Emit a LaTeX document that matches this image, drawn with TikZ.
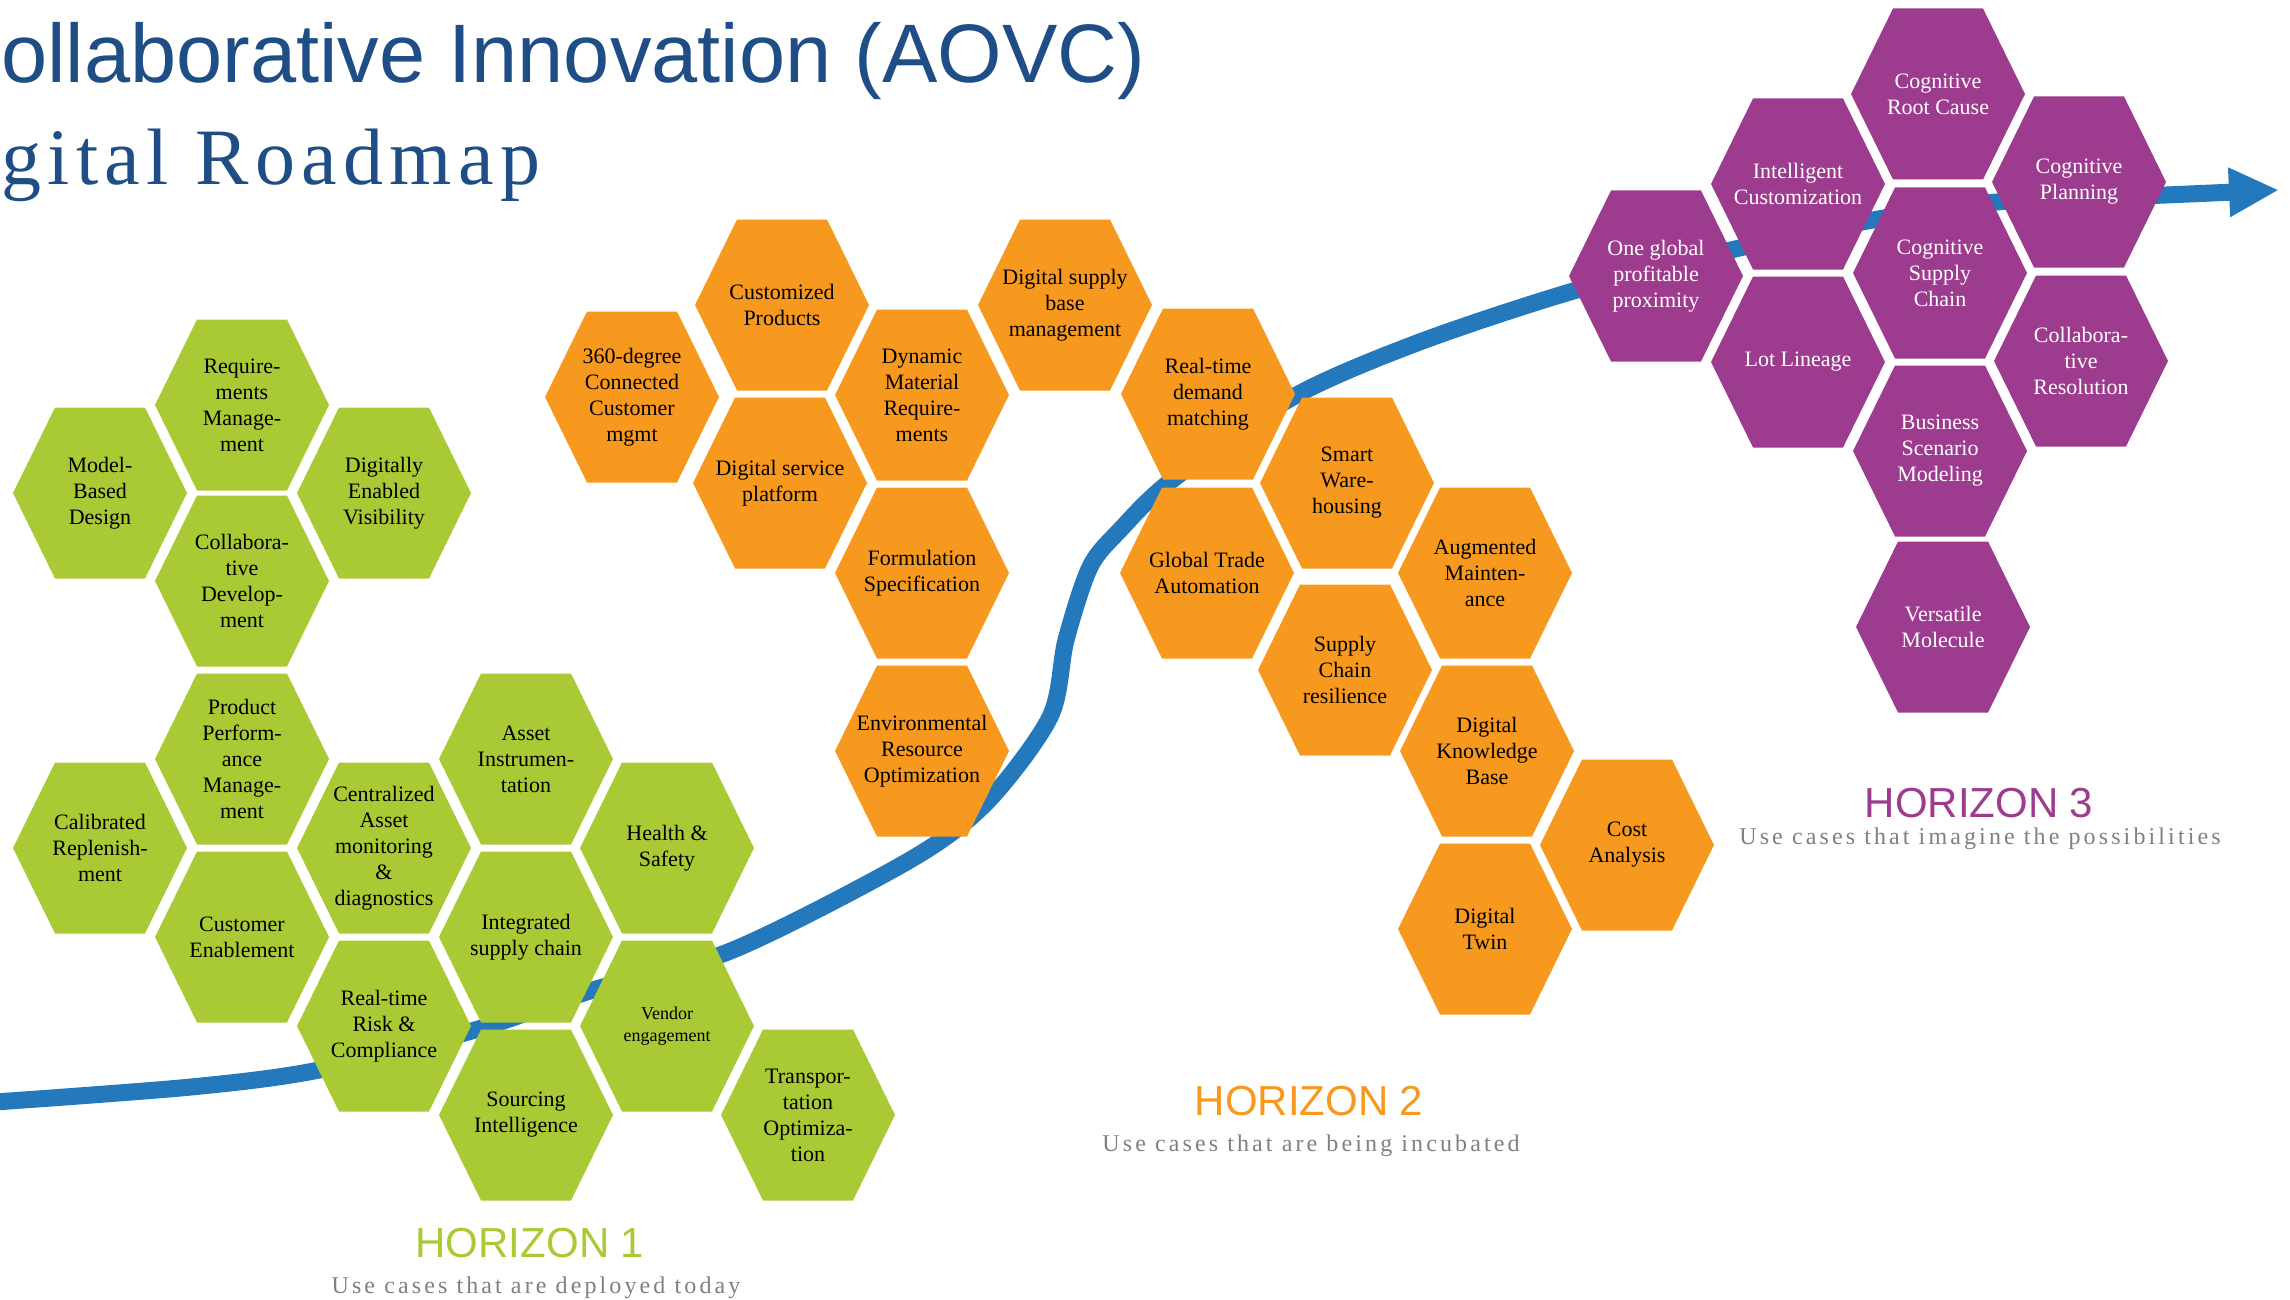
\documentclass[tikz,border=0pt]{standalone}
\usepackage{fontspec}
\setmainfont{Liberation Serif}
\newfontfamily\headfont{Liberation Sans}
\usepackage{xcolor}
\usetikzlibrary{arrows.meta}

\definecolor{hgreen}{RGB}{169,202,52}
\definecolor{horange}{RGB}{248,153,31}
\definecolor{hpurple}{RGB}{157,60,143}
\definecolor{roadblue}{RGB}{36,121,188}
\definecolor{titleblue}{RGB}{31,78,134}
\definecolor{subgray}{RGB}{128,128,128}

\tikzset{
	hexagon/.pic={\fill[#1] (-87,0) -- (-45,-85.5) -- (45,-85.5) -- (87,0) -- (45,85.5) -- (-45,85.5) -- cycle;},
	cell/.style={font=\fontsize{22}{26}\selectfont, align=center, inner sep=1pt},
	horizon/.style={font=\headfont\fontsize{42}{42}\selectfont, anchor=base, inner sep=0pt},
	subline/.style={font=\fontsize{24}{24}\selectfont\addfontfeature{LetterSpace=13}, text=subgray, anchor=base, inner sep=0pt}
}

\begin{document}
\begin{tikzpicture}[x=1pt,y=-1pt]
		\useasboundingbox (0,0) rectangle (2290,1300);
		\clip (0,0) rectangle (2290,1300);

		\node[anchor=base west, inner sep=0pt, text=titleblue, font=\headfont\fontsize{83}{83}\selectfont] (title) at (1,83) {ollaborative Innovation (AOVC)};
		\node[anchor=base west, inner sep=0pt, text=titleblue, font=\fontsize{80}{80}\selectfont\addfontfeature{LetterSpace=8}] (roadmap) at (1,185) {gital Roadmap};

		% the road
		\draw[roadblue, line width=17pt, -{Triangle[width=46pt,length=50pt]}] plot[smooth] coordinates {(-5,1102) (191,1087) (319,1070) (475,1030) (593,990) (733,950) (910,860) (987,802) (1050,717) (1066,640) (1090,567) (1120,530) (1172,480) (1293,397) (1417,343) (1570,292) (1731,250) (1873,220) (1997,202) (2166,195) (2279,190)};

		% horizon 1
		\pic at (100,493) {hexagon=hgreen};
		\pic at (242,405) {hexagon=hgreen};
		\pic at (384,493) {hexagon=hgreen};
		\pic at (242,581) {hexagon=hgreen};
		\pic at (242,759) {hexagon=hgreen};
		\pic at (100,848) {hexagon=hgreen};
		\pic at (242,937) {hexagon=hgreen};
		\pic at (384,848) {hexagon=hgreen};
		\pic at (384,1026) {hexagon=hgreen};
		\pic at (526,759) {hexagon=hgreen};
		\pic at (526,937) {hexagon=hgreen};
		\pic at (526,1115) {hexagon=hgreen};
		\pic at (667,848) {hexagon=hgreen};
		\pic at (667,1026) {hexagon=hgreen};
		\pic at (808,1115) {hexagon=hgreen};

		\node[cell] (mbd) at (100,493) {Model-\\Based\\Design};
		\node[cell] (reqm) at (242,405) {Require-\\ments\\Manage-\\ment};
		\node[cell] (dev) at (384,493) {Digitally\\Enabled\\Visibility};
		\node[cell] (cdev) at (242,581) {Collabora-\\tive\\Develop-\\ment};
		\node[cell] (ppm) at (242,759) {Product\\Perform-\\ance\\Manage-\\ment};
		\node[cell] (crep) at (100,848) {Calibrated\\Replenish-\\ment};
		\node[cell] (cen) at (242,937) {Customer\\Enablement};
		\node[cell] (camd) at (384,848) {Centralized\\Asset\\monitoring\\\&\\diagnostics};
		\node[cell] (rrc) at (384,1026) {Real-time\\Risk \&\\Compliance};
		\node[cell] (ains) at (526,759) {Asset\\Instrumen-\\tation};
		\node[cell] (isc) at (526,937) {Integrated\\supply chain};
		\node[cell] (sint) at (526,1115) {Sourcing\\Intelligence};
		\node[cell] (hs) at (667,848) {Health \&\\Safety};
		\node[cell, font=\fontsize{18}{22}\selectfont] (veng) at (667,1026) {Vendor\\engagement};
		\node[cell] (topt) at (808,1115) {Transpor-\\tation\\Optimiza-\\tion};

		% horizon 2
		\pic at (632,397) {hexagon=horange};
		\pic at (782,305) {hexagon=horange};
		\pic at (780,483) {hexagon=horange};
		\pic at (922,395) {hexagon=horange};
		\pic at (922,573) {hexagon=horange};
		\pic at (922,751) {hexagon=horange};
		\pic at (1065,305) {hexagon=horange};
		\pic at (1208,394) {hexagon=horange};
		\pic at (1207,573) {hexagon=horange};
		\pic at (1347,483) {hexagon=horange};
		\pic at (1345,670) {hexagon=horange};
		\pic at (1485,573) {hexagon=horange};
		\pic at (1487,751) {hexagon=horange};
		\pic at (1627,845) {hexagon=horange};
		\pic at (1485,929) {hexagon=horange};

		\node[cell] (ccm) at (632,397) {360-degree\\Connected\\Customer\\mgmt};
		\node[cell] (cprod) at (782,305) {Customized\\Products};
		\node[cell] (dsp) at (780,483) {Digital service\\platform};
		\node[cell] (dmr) at (922,395) {Dynamic\\Material\\Require-\\ments};
		\node[cell] (fspec) at (922,573) {Formulation\\Specification};
		\node[cell] (ero) at (922,751) {Environmental\\Resource\\Optimization};
		\node[cell] (dsbm) at (1065,305) {Digital supply\\base\\management};
		\node[cell] (rdm) at (1208,394) {Real-time\\demand\\matching};
		\node[cell] (gta) at (1207,573) {Global Trade\\Automation};
		\node[cell] (swh) at (1347,483) {Smart\\Ware-\\housing};
		\node[cell] (scr) at (1345,670) {Supply\\Chain\\resilience};
		\node[cell] (amt) at (1485,573) {Augmented\\Mainten-\\ance};
		\node[cell] (dkb) at (1487,751) {Digital\\Knowledge\\Base};
		\node[cell] (cana) at (1627,845) {Cost\\Analysis};
		\node[cell] (dtw) at (1485,929) {Digital\\Twin};

		% horizon 3
		\pic at (1656,276) {hexagon=hpurple};
		\pic at (1798,184) {hexagon=hpurple};
		\pic at (1798,362) {hexagon=hpurple};
		\pic at (1938,94) {hexagon=hpurple};
		\pic at (1940,273) {hexagon=hpurple};
		\pic at (1940,451) {hexagon=hpurple};
		\pic at (1943,627) {hexagon=hpurple};
		\pic at (2079,182) {hexagon=hpurple};
		\pic at (2081,361) {hexagon=hpurple};

		\node[cell, text=white] (ogpp) at (1656,276) {One global\\profitable\\proximity};
		\node[cell, text=white] (icust) at (1798,184) {Intelligent\\Customization};
		\node[cell, text=white] (llin) at (1798,362) {Lot Lineage};
		\node[cell, text=white] (crc) at (1938,94) {Cognitive\\Root Cause};
		\node[cell, text=white] (csc) at (1940,273) {Cognitive\\Supply\\Chain};
		\node[cell, text=white] (bsm) at (1940,451) {Business\\Scenario\\Modeling};
		\node[cell, text=white] (vmol) at (1943,627) {Versatile\\Molecule};
		\node[cell, text=white] (cpl) at (2079,182) {Cognitive\\Planning};
		\node[cell, text=white] (cres) at (2081,361) {Collabora-\\tive\\Resolution};

		\node[horizon, text=hgreen] (h1) at (530,1257) {HORIZON 1};
		\node[subline] (h1sub) at (536,1293) {Use cases that are deployed today};
		\node[horizon, text=horange] (h2) at (1309,1115) {HORIZON 2};
		\node[subline] (h2sub) at (1311,1151) {Use cases that are being incubated};
		\node[horizon, text=hpurple] (h3) at (1979,817) {HORIZON 3};
		\node[subline] (h3sub) at (1980,844) {Use cases that imagine the possibilities};
	\end{tikzpicture}
\end{document}
